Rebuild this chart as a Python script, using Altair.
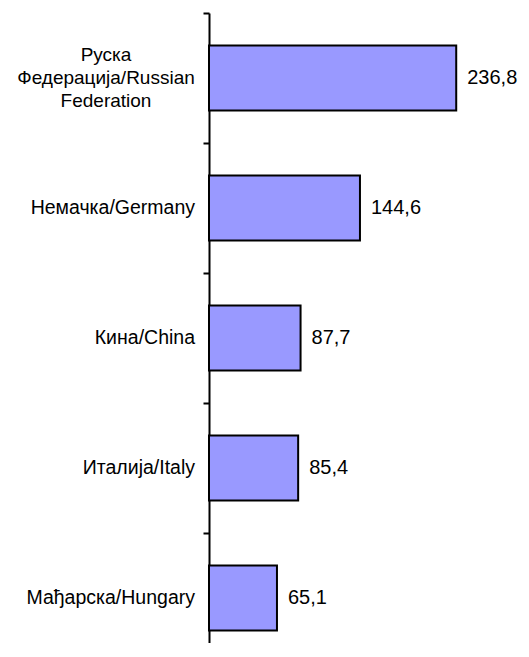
import altair as alt
import pandas as pd

categories = [
    "Руска Федерација/Russian Federation",
    "Немачка/Germany",
    "Кина/China",
    "Италија/Italy",
    "Мађарска/Hungary",
]
label_text = [
    "Руска\nФедерација/Russian\nFederation",
    "Немачка/Germany",
    "Кина/China",
    "Италија/Italy",
    "Мађарска/Hungary",
]
multi_line = [True, False, False, False, False]
values = [236.8, 144.6, 87.7, 85.4, 65.1]
value_labels = ["236,8", "144,6", "87,7", "85,4", "65,1"]

df = pd.DataFrame({
    "cat": categories,
    "label": label_text,
    "multi": multi_line,
    "value": values,
    "vlabel": value_labels,
})

FONT = "Liberation Sans"

y_enc = alt.Y(
    "cat:N",
    sort=categories,
    scale=alt.Scale(range=[0, 650], paddingInner=0.5, paddingOuter=0.25),
    axis=alt.Axis(
        labels=False, title=None, ticks=True, tickBand="center", tickOffset=-65,
        tickSize=6, tickWidth=2, tickColor="black",
        domainColor="black", domainWidth=2, grid=False,
    ),
)
x_enc = alt.X("value:Q", scale=alt.Scale(domain=[0, 250], nice=False, zero=True), axis=None)

bars = alt.Chart(df).mark_bar(
    color="#9999FF", stroke="black", strokeWidth=2
).encode(x=x_enc, y=y_enc)

vals = alt.Chart(df).mark_text(
    align="left", baseline="middle", dx=11, fontSize=20, font=FONT, color="black"
).encode(x=x_enc, y=y_enc, text="vlabel:N")

single = alt.Chart(df).transform_filter("!datum.multi").mark_text(
    align="right", baseline="middle", fontSize=19.5, font=FONT, color="black"
).encode(x=alt.value(-14), y=y_enc, text="label:N")

multi = alt.Chart(df).transform_filter("datum.multi").mark_text(
    align="center", baseline="middle", fontSize=19, font=FONT, color="black",
    lineBreak="\n", lineHeight=23, dy=-23
).encode(x=alt.value(-103), y=y_enc, text="label:N")

chart = alt.layer(bars, vals, single, multi).properties(
    width=261, height=630,
    autosize=alt.AutoSizeParams(type="none"),
    padding={"left": 201, "top": 5, "right": 50, "bottom": 0},
).configure_view(stroke=None)

chart.save("out.html", embed_options={"renderer": "svg", "actions": False})
